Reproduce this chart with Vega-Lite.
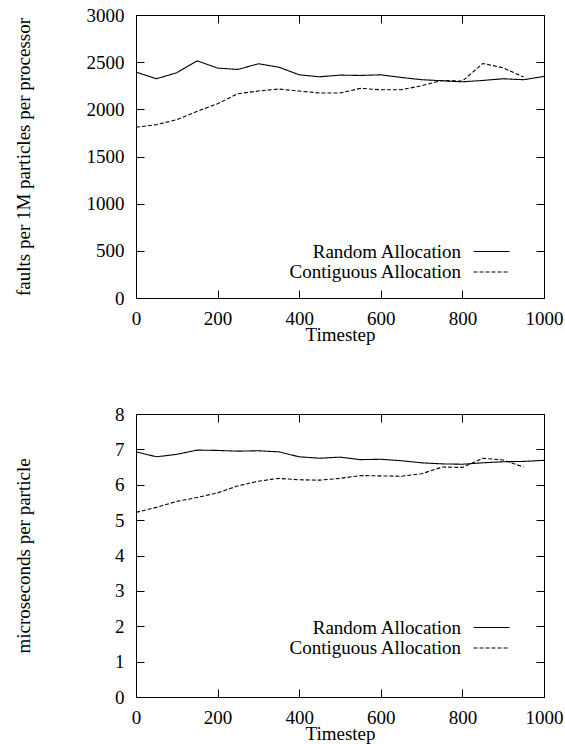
{
  "$schema": "https://vega.github.io/schema/vega-lite/v6.json",
  "background": "white",
  "padding": {"left": 13, "top": 5, "right": 2, "bottom": 0},
  "spacing": 59,
  "config": {
    "font": "Liberation Serif",
    "view": {"stroke": "black", "strokeWidth": 1},
    "axis": {
      "domain": false, "grid": false, "tickColor": "black", "tickSize": -8, "tickWidth": 1,
      "labelFont": "Liberation Serif", "labelFontSize": 19, "labelColor": "black", "labelFlush": false, "labelOverlap": false, "format": "d",
      "titleFont": "Liberation Serif", "titleFontSize": 19, "titleFontWeight": "normal", "titleColor": "black"
    },
    "axisX": {"labelPadding": 19, "minExtent": 20, "maxExtent": 20, "titlePadding": 7.5},
    "axisY": {"labelPadding": 20, "minExtent": 60, "maxExtent": 60, "titlePadding": 42.7},
    "legend": {
      "symbolType": "M-3,0H3", "symbolSize": 144, "symbolStrokeColor": "black", "symbolStrokeWidth": 1.1,
      "labelFont": "Liberation Serif", "labelFontSize": 19, "labelColor": "black", "labelAlign": "right", "labelOffset": -40,
      "labelLimit": 0, "padding": 0, "rowPadding": 0.5
    }
  },
  "resolve": {"scale": {"strokeDash": "independent"}, "legend": {"strokeDash": "independent"}},
  "vconcat": [
    {
      "width": 408, "height": 283,
      "data": {"values": [
        {"t": 0, "series": "Random Allocation", "v": 2395},
        {"t": 50, "series": "Random Allocation", "v": 2324},
        {"t": 100, "series": "Random Allocation", "v": 2388},
        {"t": 150, "series": "Random Allocation", "v": 2514},
        {"t": 200, "series": "Random Allocation", "v": 2437},
        {"t": 250, "series": "Random Allocation", "v": 2423},
        {"t": 300, "series": "Random Allocation", "v": 2483},
        {"t": 350, "series": "Random Allocation", "v": 2447},
        {"t": 400, "series": "Random Allocation", "v": 2366},
        {"t": 450, "series": "Random Allocation", "v": 2345},
        {"t": 500, "series": "Random Allocation", "v": 2363},
        {"t": 550, "series": "Random Allocation", "v": 2359},
        {"t": 600, "series": "Random Allocation", "v": 2366},
        {"t": 650, "series": "Random Allocation", "v": 2338},
        {"t": 700, "series": "Random Allocation", "v": 2314},
        {"t": 750, "series": "Random Allocation", "v": 2303},
        {"t": 800, "series": "Random Allocation", "v": 2292},
        {"t": 850, "series": "Random Allocation", "v": 2306},
        {"t": 900, "series": "Random Allocation", "v": 2324},
        {"t": 950, "series": "Random Allocation", "v": 2314},
        {"t": 1000, "series": "Random Allocation", "v": 2349},
        {"t": 0, "series": "Contiguous Allocation", "v": 1810},
        {"t": 50, "series": "Contiguous Allocation", "v": 1838},
        {"t": 100, "series": "Contiguous Allocation", "v": 1891},
        {"t": 150, "series": "Contiguous Allocation", "v": 1979},
        {"t": 200, "series": "Contiguous Allocation", "v": 2060},
        {"t": 250, "series": "Contiguous Allocation", "v": 2166},
        {"t": 300, "series": "Contiguous Allocation", "v": 2194},
        {"t": 350, "series": "Contiguous Allocation", "v": 2215},
        {"t": 400, "series": "Contiguous Allocation", "v": 2194},
        {"t": 450, "series": "Contiguous Allocation", "v": 2173},
        {"t": 500, "series": "Contiguous Allocation", "v": 2173},
        {"t": 550, "series": "Contiguous Allocation", "v": 2222},
        {"t": 600, "series": "Contiguous Allocation", "v": 2208},
        {"t": 650, "series": "Contiguous Allocation", "v": 2208},
        {"t": 700, "series": "Contiguous Allocation", "v": 2250},
        {"t": 750, "series": "Contiguous Allocation", "v": 2306},
        {"t": 800, "series": "Contiguous Allocation", "v": 2299},
        {"t": 850, "series": "Contiguous Allocation", "v": 2486},
        {"t": 900, "series": "Contiguous Allocation", "v": 2440},
        {"t": 950, "series": "Contiguous Allocation", "v": 2342}
      ]},
      "layer": [
        {
          "mark": {"type": "line", "color": "black", "strokeWidth": 1.1},
          "encoding": {
            "x": {"field": "t", "type": "quantitative", "scale": {"domain": [0, 1000], "nice": false},
                  "axis": {"title": "Timestep", "values": [0, 200, 400, 600, 800, 1000]}},
            "y": {"field": "v", "type": "quantitative", "scale": {"domain": [0, 3000], "nice": false},
                  "axis": {"title": "faults per 1M particles per processor", "values": [0, 500, 1000, 1500, 2000, 2500, 3000]}},
            "strokeDash": {"field": "series", "type": "nominal",
                  "scale": {"domain": ["Random Allocation", "Contiguous Allocation"], "range": [[1, 0], [4, 2]]},
                  "legend": {"title": null, "orient": "none", "legendX": 346, "legendY": 227}}
          }
        },
        {
          "mark": {"type": "line", "opacity": 0},
          "encoding": {
            "x": {"field": "t", "type": "quantitative",
                  "axis": {"orient": "top", "labels": false, "title": null, "minExtent": 0, "maxExtent": 0, "values": [0, 200, 400, 600, 800, 1000]}},
            "y": {"field": "v", "type": "quantitative",
                  "axis": {"orient": "right", "labels": false, "title": null, "minExtent": 0, "maxExtent": 0, "values": [0, 500, 1000, 1500, 2000, 2500, 3000]}},
            "detail": {"field": "series"}
          }
        }
      ],
      "resolve": {"axis": {"x": "independent", "y": "independent"}}
    },
    {
      "width": 408, "height": 283,
      "data": {"values": [
        {"t": 0, "series": "Random Allocation", "v": 6.93},
        {"t": 50, "series": "Random Allocation", "v": 6.79},
        {"t": 100, "series": "Random Allocation", "v": 6.86},
        {"t": 150, "series": "Random Allocation", "v": 6.98},
        {"t": 200, "series": "Random Allocation", "v": 6.97},
        {"t": 250, "series": "Random Allocation", "v": 6.95},
        {"t": 300, "series": "Random Allocation", "v": 6.96},
        {"t": 350, "series": "Random Allocation", "v": 6.93},
        {"t": 400, "series": "Random Allocation", "v": 6.79},
        {"t": 450, "series": "Random Allocation", "v": 6.75},
        {"t": 500, "series": "Random Allocation", "v": 6.78},
        {"t": 550, "series": "Random Allocation", "v": 6.71},
        {"t": 600, "series": "Random Allocation", "v": 6.72},
        {"t": 650, "series": "Random Allocation", "v": 6.68},
        {"t": 700, "series": "Random Allocation", "v": 6.62},
        {"t": 750, "series": "Random Allocation", "v": 6.59},
        {"t": 800, "series": "Random Allocation", "v": 6.58},
        {"t": 850, "series": "Random Allocation", "v": 6.62},
        {"t": 900, "series": "Random Allocation", "v": 6.65},
        {"t": 950, "series": "Random Allocation", "v": 6.66},
        {"t": 1000, "series": "Random Allocation", "v": 6.69},
        {"t": 0, "series": "Contiguous Allocation", "v": 5.22},
        {"t": 50, "series": "Contiguous Allocation", "v": 5.36},
        {"t": 100, "series": "Contiguous Allocation", "v": 5.53},
        {"t": 150, "series": "Contiguous Allocation", "v": 5.64},
        {"t": 200, "series": "Contiguous Allocation", "v": 5.77},
        {"t": 250, "series": "Contiguous Allocation", "v": 5.97},
        {"t": 300, "series": "Contiguous Allocation", "v": 6.10},
        {"t": 350, "series": "Contiguous Allocation", "v": 6.18},
        {"t": 400, "series": "Contiguous Allocation", "v": 6.14},
        {"t": 450, "series": "Contiguous Allocation", "v": 6.13},
        {"t": 500, "series": "Contiguous Allocation", "v": 6.18},
        {"t": 550, "series": "Contiguous Allocation", "v": 6.26},
        {"t": 600, "series": "Contiguous Allocation", "v": 6.25},
        {"t": 650, "series": "Contiguous Allocation", "v": 6.24},
        {"t": 700, "series": "Contiguous Allocation", "v": 6.31},
        {"t": 750, "series": "Contiguous Allocation", "v": 6.50},
        {"t": 800, "series": "Contiguous Allocation", "v": 6.49},
        {"t": 850, "series": "Contiguous Allocation", "v": 6.75},
        {"t": 900, "series": "Contiguous Allocation", "v": 6.70},
        {"t": 950, "series": "Contiguous Allocation", "v": 6.50}
      ]},
      "layer": [
        {
          "mark": {"type": "line", "color": "black", "strokeWidth": 1.1},
          "encoding": {
            "x": {"field": "t", "type": "quantitative", "scale": {"domain": [0, 1000], "nice": false},
                  "axis": {"title": "Timestep", "values": [0, 200, 400, 600, 800, 1000]}},
            "y": {"field": "v", "type": "quantitative", "scale": {"domain": [0, 8], "nice": false},
                  "axis": {"title": "microseconds per particle", "values": [0, 1, 2, 3, 4, 5, 6, 7, 8]}},
            "strokeDash": {"field": "series", "type": "nominal",
                  "scale": {"domain": ["Random Allocation", "Contiguous Allocation"], "range": [[1, 0], [4, 2]]},
                  "legend": {"title": null, "orient": "none", "legendX": 346, "legendY": 204}}
          }
        },
        {
          "mark": {"type": "line", "opacity": 0},
          "encoding": {
            "x": {"field": "t", "type": "quantitative",
                  "axis": {"orient": "top", "labels": false, "title": null, "minExtent": 0, "maxExtent": 0, "values": [0, 200, 400, 600, 800, 1000]}},
            "y": {"field": "v", "type": "quantitative",
                  "axis": {"orient": "right", "labels": false, "title": null, "minExtent": 0, "maxExtent": 0, "values": [0, 1, 2, 3, 4, 5, 6, 7, 8]}},
            "detail": {"field": "series"}
          }
        }
      ],
      "resolve": {"axis": {"x": "independent", "y": "independent"}}
    }
  ]
}
